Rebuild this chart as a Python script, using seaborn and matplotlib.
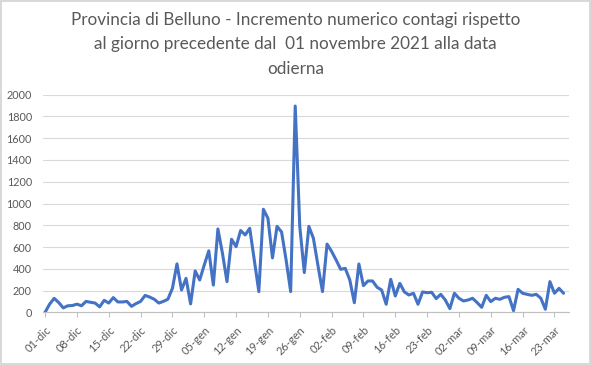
import pandas as pd
import numpy as np
import matplotlib.pyplot as plt
import seaborn as sns

# incremento giornaliero contagi, dal 01-dic-2021
valori = [0, 75, 128, 90, 40, 60, 62, 75, 60, 100,
          92, 85, 50, 110, 85, 135, 95, 95, 100, 55,
          80, 100, 155, 140, 120, 85, 100, 120, 220, 445,
          205, 312, 77, 380, 297, 435, 565, 250, 766, 542,
          282, 671, 603, 752, 711, 772, 480, 190, 947, 864,
          500, 790, 738, 480, 190, 1896, 790, 365, 790, 680,
          430, 190, 627, 560, 480, 395, 404, 297, 88, 444,
          245, 288, 288, 230, 205, 74, 303, 150, 266, 187,
          159, 175, 74, 187, 180, 184, 126, 165, 113, 34,
          175, 129, 104, 113, 129, 89, 46, 156, 98, 129,
          119, 138, 144, 15, 211, 175, 165, 156, 165, 129,
          28, 282, 175, 220, 175]

etichette_x = ["01-dic", "08-dic", "15-dic", "22-dic", "29-dic", "05-gen",
               "12-gen", "19-gen", "26-gen", "02-feb", "09-feb", "16-feb",
               "23-feb", "02-mar", "09-mar", "16-mar", "23-mar"]
valori_y = [0, 200, 400, 600, 800, 1000, 1200, 1400, 1600, 1800, 2000]

titolo = ("Provincia di Belluno - Incremento numerico contagi rispetto\n"
          "al giorno precedente dal  01 novembre 2021 alla data\n"
          "odierna")

df = pd.DataFrame({"giorno": np.arange(len(valori)), "contagi": valori})

sns.set_theme(style="white")
plt.rcParams["font.family"] = ["Lato", "DejaVu Sans"]

grigio = "#595959"
fig = plt.figure(figsize=(5.91, 3.65), dpi=100)
fig.patch.set_edgecolor("#D9D9D9")
fig.patch.set_linewidth(1.5)
ax = fig.add_axes([0.0728, 0.1444, 0.890, 0.5961])

sns.lineplot(data=df, x="giorno", y="contagi", ax=ax, color="#4472C4",
             linewidth=2.2)

ax.set_ylim(0, 2000)
ax.set_xlim(-0.45, 115.2)
ax.set_yticks(valori_y)
ax.set_yticklabels([str(v) for v in valori_y], fontsize=7.8, color=grigio)
ax.set_xticks(np.arange(len(etichette_x)) * 7)
ax.set_xticklabels(etichette_x, rotation=45, ha="right",
                   rotation_mode="anchor", fontsize=8, color=grigio)
ax.tick_params(axis="x", length=3.5, width=0.8, color="#BFBFBF",
               direction="out", bottom=True, pad=5)
ax.tick_params(axis="y", length=0, pad=8)
ax.grid(axis="y", color="#D9D9D9", linewidth=0.8)
ax.set_axisbelow(True)
for s in ["top", "right", "left"]:
    ax.spines[s].set_visible(False)
ax.spines["bottom"].set_color("#BFBFBF")
ax.spines["bottom"].set_linewidth(0.8)
ax.set_xlabel("")
ax.set_ylabel("")

fig.text(0.5, 0.966, titolo, ha="center", va="top", fontsize=12.3,
         color=grigio, linespacing=1.62)

plt.savefig("out.png", dpi=100, edgecolor=fig.get_edgecolor())
